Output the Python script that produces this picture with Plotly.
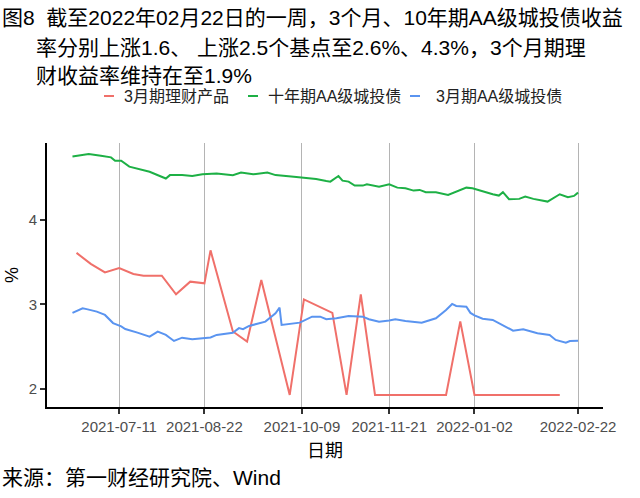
import plotly.graph_objects as go

# ---------------- data ----------------
red_dates = ["2021-06-20", "2021-06-27", "2021-07-04", "2021-07-11", "2021-07-18", "2021-07-23",
             "2021-08-01", "2021-08-08", "2021-08-15", "2021-08-22", "2021-08-25", "2021-09-05",
             "2021-09-12", "2021-09-19", "2021-10-03", "2021-10-10", "2021-10-24", "2021-10-31",
             "2021-11-07", "2021-11-14", "2021-11-21", "2021-11-28", "2021-12-05", "2021-12-12",
             "2021-12-19", "2021-12-26", "2022-01-02", "2022-01-09", "2022-01-16", "2022-01-23",
             "2022-01-30", "2022-02-06", "2022-02-13"]
red_vals = [3.61, 3.48, 3.38, 3.43, 3.36, 3.34,
            3.34, 3.12, 3.27, 3.25, 3.64, 2.68,
            2.56, 3.29, 1.93, 3.06, 2.90, 1.93,
            3.12, 1.93, 1.93, 1.93, 1.93, 1.93,
            1.93, 2.80, 1.93, 1.93, 1.93, 1.93,
            1.93, 1.93, 1.93]

green_dates = ["2021-06-18", "2021-06-26", "2021-07-02", "2021-07-07", "2021-07-09", "2021-07-12",
               "2021-07-16", "2021-07-21", "2021-07-26", "2021-07-31", "2021-08-03", "2021-08-05",
               "2021-08-11", "2021-08-16", "2021-08-21", "2021-08-28", "2021-09-05", "2021-09-09",
               "2021-09-15", "2021-09-22", "2021-09-26", "2021-10-05", "2021-10-10", "2021-10-16",
               "2021-10-21", "2021-10-23", "2021-10-27", "2021-10-29", "2021-11-01", "2021-11-04",
               "2021-11-08", "2021-11-10", "2021-11-16", "2021-11-21", "2021-11-25", "2021-11-29",
               "2021-12-03", "2021-12-06", "2021-12-09", "2021-12-14", "2021-12-20", "2021-12-24",
               "2021-12-29", "2022-01-01", "2022-01-06", "2022-01-11", "2022-01-14", "2022-01-16",
               "2022-01-19", "2022-01-24", "2022-01-27", "2022-01-31", "2022-02-07", "2022-02-09",
               "2022-02-13", "2022-02-17", "2022-02-20", "2022-02-22"]
green_vals = [4.75, 4.78, 4.76, 4.74, 4.70, 4.70,
              4.63, 4.60, 4.57, 4.52, 4.49, 4.53,
              4.53, 4.52, 4.54, 4.55, 4.53, 4.56,
              4.54, 4.56, 4.53, 4.51, 4.50, 4.485,
              4.46, 4.453, 4.52, 4.465, 4.453, 4.406,
              4.406, 4.422, 4.394, 4.422, 4.382, 4.375,
              4.347, 4.355, 4.328, 4.328, 4.296, 4.335,
              4.382, 4.375, 4.335, 4.304, 4.288, 4.328,
              4.245, 4.249, 4.276, 4.249, 4.217, 4.249,
              4.304, 4.269, 4.284, 4.323]

blue_dates = ["2021-06-18", "2021-06-23", "2021-06-25", "2021-06-30", "2021-07-04", "2021-07-08",
              "2021-07-12", "2021-07-14", "2021-07-20", "2021-07-26", "2021-07-30", "2021-08-03",
              "2021-08-07", "2021-08-11", "2021-08-16", "2021-08-20", "2021-08-25", "2021-08-28",
              "2021-09-05", "2021-09-08", "2021-09-10", "2021-09-13", "2021-09-21", "2021-09-26",
              "2021-09-28", "2021-09-29", "2021-10-08", "2021-10-14", "2021-10-18", "2021-10-21",
              "2021-10-26", "2021-11-01", "2021-11-03", "2021-11-08", "2021-11-11", "2021-11-16",
              "2021-11-21", "2021-11-24", "2021-11-29", "2021-12-07", "2021-12-14", "2021-12-19",
              "2021-12-22", "2021-12-24", "2021-12-29", "2021-12-31", "2022-01-02", "2022-01-06",
              "2022-01-11", "2022-01-16", "2022-01-21", "2022-01-26", "2022-02-02", "2022-02-08",
              "2022-02-11", "2022-02-16", "2022-02-18", "2022-02-22"]
blue_vals = [2.90, 2.955, 2.945, 2.915, 2.876, 2.78,
             2.74, 2.71, 2.667, 2.62, 2.678, 2.64,
             2.568, 2.607, 2.588, 2.60, 2.61, 2.64,
             2.665, 2.72, 2.707, 2.746, 2.797, 2.896,
             2.962, 2.757, 2.785, 2.856, 2.856, 2.825,
             2.837, 2.864, 2.864, 2.856, 2.825, 2.797,
             2.81, 2.825, 2.805, 2.785, 2.837, 2.935,
             3.006, 2.982, 2.974, 2.90, 2.87, 2.832,
             2.817, 2.757, 2.69, 2.707, 2.659, 2.639,
             2.58, 2.548, 2.568, 2.571]

series_names = ["3月期理财产品", "十年期AA级城投债", "3月期AA级城投债"]
colors = ["#F0706A", "#1DB045", "#5A94F0"]
x_ticks = ["2021-07-11", "2021-08-22", "2021-10-09", "2021-11-21", "2022-01-02", "2022-02-22"]
y_ticks = [2, 3, 4]

title_lines = ["图8  截至2022年02月22日的一周，3个月、10年期AA级城投债收益",
               "率分别上涨1.6、 上涨2.5个基点至2.6%、4.3%，3个月期理",
               "财收益率维持在至1.9%"]
caption = "来源：第一财经研究院、Wind"

# ---------------- layout geometry ----------------
W, H = 640, 498
L, R, T, B = 47, 603, 143, 407
FONT = "Liberation Sans, Arial, Noto Sans CJK SC, sans-serif"


def px(x):
    return (x - L) / (R - L)


def py(y):
    return (B - y) / (B - T)


fig = go.Figure()
for d, v, n, c in [(red_dates, red_vals, series_names[0], colors[0]),
                   (green_dates, green_vals, series_names[1], colors[1]),
                   (blue_dates, blue_vals, series_names[2], colors[2])]:
    fig.add_trace(go.Scatter(x=d, y=v, mode="lines", name=n,
                             line=dict(color=c, width=2), showlegend=False))

annotations = []
# title lines
annotations.append(dict(text=title_lines[0], x=px(0), y=py(17), xref="paper", yref="paper",
                        xanchor="left", yanchor="middle", showarrow=False,
                        font=dict(size=21, color="black", family=FONT)))
annotations.append(dict(text=title_lines[1], x=px(34), y=py(47), xref="paper", yref="paper",
                        xanchor="left", yanchor="middle", showarrow=False,
                        font=dict(size=21, color="black", family=FONT)))
annotations.append(dict(text=title_lines[2], x=px(34), y=py(75), xref="paper", yref="paper",
                        xanchor="left", yanchor="middle", showarrow=False,
                        font=dict(size=21, color="black", family=FONT)))
# legend
shapes = []
leg_dash = [104, 248, 410]
leg_text = [122, 266, 434]
for i in range(3):
    shapes.append(dict(type="line", xref="paper", yref="paper",
                       x0=px(leg_dash[i]), x1=px(leg_dash[i] + 10), y0=py(96), y1=py(96),
                       line=dict(color=colors[i], width=2)))
    annotations.append(dict(text=series_names[i], x=px(leg_text[i]), y=py(96), xref="paper",
                            yref="paper", xanchor="left", yanchor="middle", showarrow=False,
                            font=dict(size=16, color="#222222", family=FONT)))
# axis titles
annotations.append(dict(text="日期", x=px(325), y=py(451), xref="paper", yref="paper",
                        xanchor="center", yanchor="middle", showarrow=False,
                        font=dict(size=18, color="black", family=FONT)))
annotations.append(dict(text="%", x=px(12), y=py(275), xref="paper", yref="paper",
                        xanchor="center", yanchor="middle", showarrow=False, textangle=-90,
                        font=dict(size=18, color="black", family=FONT)))
# caption
annotations.append(dict(text=caption, x=px(0), y=py(477), xref="paper", yref="paper",
                        xanchor="left", yanchor="middle", showarrow=False,
                        font=dict(size=21, color="black", family=FONT)))

fig.update_layout(
    width=W, height=H,
    margin=dict(l=L, r=W - R, t=T, b=H - B, pad=0),
    paper_bgcolor="white", plot_bgcolor="white",
    font=dict(family=FONT),
    annotations=annotations, shapes=shapes,
    showlegend=False,
    xaxis=dict(type="date", range=["2021-06-05 11:00", "2022-03-06 07:00"],
               tickvals=x_ticks, ticktext=x_ticks,
               showgrid=True, gridcolor="#B4B4B4", gridwidth=1.3,
               showline=True, linecolor="black", linewidth=2,
               ticks="outside", ticklen=5, tickwidth=1.5, tickcolor="#333333",
               tickfont=dict(size=15, color="#4D4D4D", family=FONT),
               zeroline=False),
    yaxis=dict(range=[1.787, 4.91], tickvals=y_ticks, ticktext=[str(t) for t in y_ticks],
               showgrid=False, showline=True, linecolor="black", linewidth=2,
               ticks="outside", ticklen=5, tickwidth=1.5, tickcolor="#333333",
               tickfont=dict(size=15, color="#4D4D4D", family=FONT),
               zeroline=False),
)

fig.write_html("out.html")
